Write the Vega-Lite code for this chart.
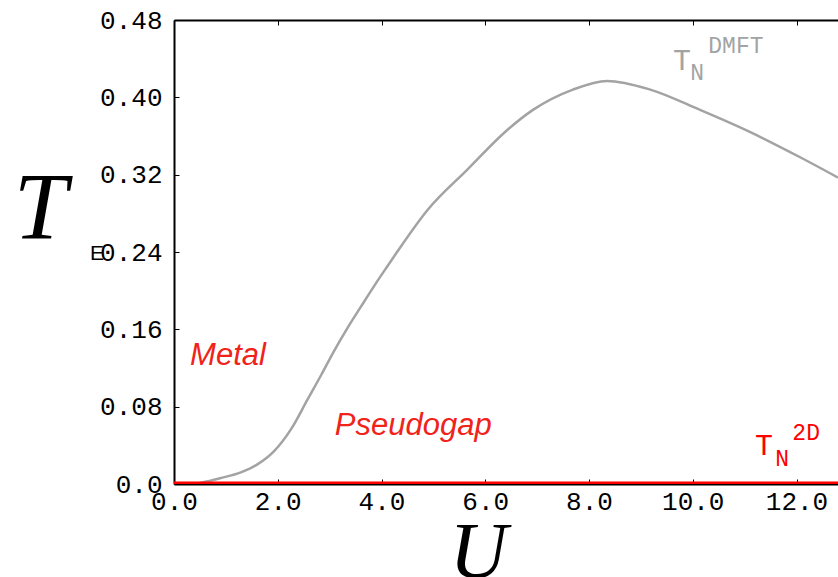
{
  "$schema": "https://vega.github.io/schema/vega-lite/v6.json",
  "width": 664,
  "height": 464,
  "autosize": "none",
  "padding": {"left": 174, "top": 20, "right": 0, "bottom": 93},
  "background": "white",
  "config": {"view": {"stroke": null}},
  "datasets": {
    "dmft": [
      {"U": 0, "T": 0}, {"U": 0.4, "T": 0.0005}, {"U": 0.58, "T": 0.002}, {"U": 0.89, "T": 0.006},
      {"U": 1.29, "T": 0.012}, {"U": 1.6, "T": 0.02}, {"U": 1.93, "T": 0.034}, {"U": 2.26, "T": 0.057},
      {"U": 2.57, "T": 0.087}, {"U": 2.84, "T": 0.113}, {"U": 3.09, "T": 0.138}, {"U": 3.34, "T": 0.161},
      {"U": 3.61, "T": 0.184}, {"U": 3.86, "T": 0.205}, {"U": 4.11, "T": 0.225}, {"U": 4.3, "T": 0.24},
      {"U": 4.88, "T": 0.283}, {"U": 5.65, "T": 0.325},
      {"U": 6.42, "T": 0.366}, {"U": 6.92, "T": 0.387}, {"U": 7.69, "T": 0.408}, {"U": 8.35, "T": 0.417},
      {"U": 9.18, "T": 0.408}, {"U": 10.14, "T": 0.387}, {"U": 11.11, "T": 0.364}, {"U": 12.07, "T": 0.338},
      {"U": 12.8, "T": 0.317}
    ],
    "twod": [{"U": 0, "T": 0}, {"U": 12.8, "T": 0}],
    "labels": [
      {"group": "region", "text": "Metal", "U": 0.31, "T": 0.123},
      {"group": "region", "text": "Pseudogap", "U": 3.1, "T": 0.0507},
      {"group": "grayBig", "text": "T", "U": 9.62, "T": 0.428},
      {"group": "graySmall", "text": "N", "U": 9.95, "T": 0.418},
      {"group": "graySmall", "text": "DMFT", "U": 10.3, "T": 0.446},
      {"group": "redBig", "text": "T", "U": 11.2, "T": 0.03},
      {"group": "redSmall", "text": "N", "U": 11.59, "T": 0.0186},
      {"group": "redSmall", "text": "2D", "U": 11.92, "T": 0.0455},
      {"group": "e", "text": "E", "U": -1.62, "T": 0.2317}
    ]
  },
  "resolve": {"axis": {"x": "independent"}},
  "layer": [
    {
      "data": {"name": "dmft"},
      "mark": {"type": "line", "color": "#a3a3a3", "strokeWidth": 2.5, "interpolate": "monotone", "clip": true},
      "encoding": {
        "x": {
          "field": "U", "type": "quantitative",
          "scale": {"domain": [0, 12.8], "nice": false, "zero": false},
          "axis": {
            "orient": "bottom",
            "values": [0, 2, 4, 6, 8, 10, 12],
            "format": ".1f",
            "grid": false,
            "domainColor": "black", "domainWidth": 2,
            "tickColor": "black", "tickSize": -5, "tickWidth": 1,
            "labelFont": "Liberation Mono", "labelFontSize": 26, "labelColor": "black",
            "labelPadding": 9, "labelFlush": false, "labelOverlap": false,
            "title": "U",
            "titleFont": "Liberation Serif", "titleFontStyle": "italic", "titleFontWeight": "normal",
            "titleFontSize": 80, "titleColor": "black",
            "titleX": 304, "titleY": 93, "titleAlign": "center", "titleBaseline": "alphabetic"
          }
        },
        "y": {
          "field": "T", "type": "quantitative",
          "scale": {"domain": [0, 0.48], "nice": false},
          "axis": {
            "orient": "left",
            "values": [0, 0.08, 0.16, 0.24, 0.32, 0.4, 0.48],
            "labelExpr": "datum.value == 0 ? '0.0' : format(datum.value, '.2f')",
            "grid": false,
            "domainColor": "black", "domainWidth": 2,
            "tickColor": "black", "tickSize": -5, "tickWidth": 1,
            "labelFont": "Liberation Mono", "labelFontSize": 26, "labelColor": "black",
            "labelPadding": 17, "labelFlush": false, "labelOverlap": false,
            "title": "T",
            "titleFont": "Liberation Serif", "titleFontStyle": "italic", "titleFontWeight": "normal",
            "titleFontSize": 96, "titleColor": "black", "titleAngle": 0,
            "titleX": -134, "titleY": 218, "titleAlign": "center", "titleBaseline": "alphabetic"
          }
        }
      }
    },
    {
      "data": {"name": "twod"},
      "mark": {"type": "line", "color": "#ff0000", "strokeWidth": 5, "clip": true},
      "encoding": {
        "x": {
          "field": "U", "type": "quantitative",
          "axis": {
            "orient": "top",
            "values": [0, 2, 4, 6, 8, 10, 12],
            "labels": false, "grid": false, "title": null,
            "domainColor": "black", "domainWidth": 2,
            "tickColor": "black", "tickSize": -5, "tickWidth": 1
          }
        },
        "y": {"field": "T", "type": "quantitative"}
      }
    },
    {
      "data": {"name": "labels"},
      "transform": [{"filter": "datum.group == 'region'"}],
      "mark": {"type": "text", "font": "Liberation Sans", "fontStyle": "italic", "fontSize": 31, "color": "#f0231a", "align": "left", "baseline": "alphabetic"},
      "encoding": {"x": {"field": "U", "type": "quantitative", "axis": null}, "y": {"field": "T", "type": "quantitative"}, "text": {"field": "text"}}
    },
    {
      "data": {"name": "labels"},
      "transform": [{"filter": "datum.group == 'grayBig'"}],
      "mark": {"type": "text", "font": "Liberation Mono", "fontSize": 30, "color": "#a3a3a3", "align": "left", "baseline": "alphabetic"},
      "encoding": {"x": {"field": "U", "type": "quantitative", "axis": null}, "y": {"field": "T", "type": "quantitative"}, "text": {"field": "text"}}
    },
    {
      "data": {"name": "labels"},
      "transform": [{"filter": "datum.group == 'graySmall'"}],
      "mark": {"type": "text", "font": "Liberation Mono", "fontSize": 23, "color": "#a3a3a3", "align": "left", "baseline": "alphabetic"},
      "encoding": {"x": {"field": "U", "type": "quantitative", "axis": null}, "y": {"field": "T", "type": "quantitative"}, "text": {"field": "text"}}
    },
    {
      "data": {"name": "labels"},
      "transform": [{"filter": "datum.group == 'redBig'"}],
      "mark": {"type": "text", "font": "Liberation Mono", "fontSize": 30, "color": "#ff0000", "align": "left", "baseline": "alphabetic"},
      "encoding": {"x": {"field": "U", "type": "quantitative", "axis": null}, "y": {"field": "T", "type": "quantitative"}, "text": {"field": "text"}}
    },
    {
      "data": {"name": "labels"},
      "transform": [{"filter": "datum.group == 'redSmall'"}],
      "mark": {"type": "text", "font": "Liberation Mono", "fontSize": 23, "color": "#ff0000", "align": "left", "baseline": "alphabetic"},
      "encoding": {"x": {"field": "U", "type": "quantitative", "axis": null}, "y": {"field": "T", "type": "quantitative"}, "text": {"field": "text"}}
    },
    {
      "data": {"name": "labels"},
      "transform": [{"filter": "datum.group == 'e'"}],
      "mark": {"type": "text", "font": "Liberation Sans", "fontSize": 21, "color": "black", "align": "left", "baseline": "alphabetic"},
      "encoding": {"x": {"field": "U", "type": "quantitative", "axis": null}, "y": {"field": "T", "type": "quantitative"}, "text": {"field": "text"}}
    }
  ]
}
